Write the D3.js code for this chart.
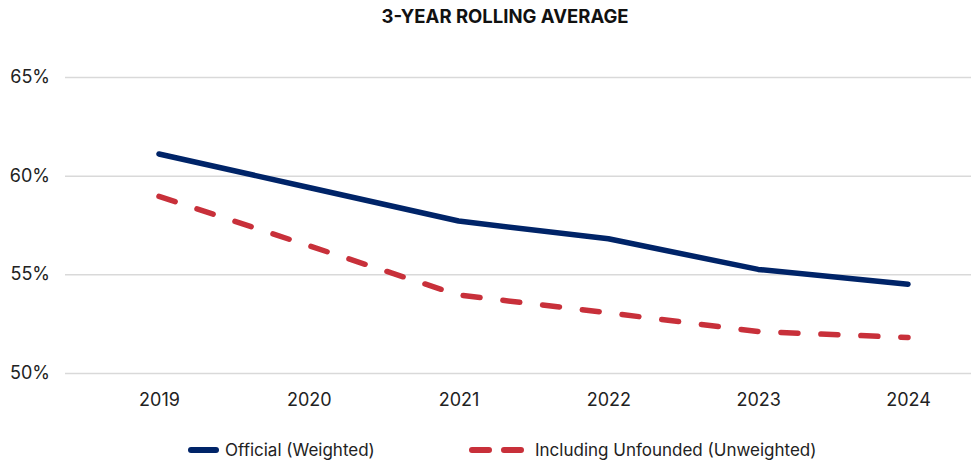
<!DOCTYPE html>
<html><head><meta charset="utf-8">
<script src="https://cdn.jsdelivr.net/npm/d3@7"></script>
<style>body{margin:0;background:#fff;} svg{display:block;font-family:Inter, "Noto Sans", sans-serif;}</style>
</head><body>
<svg id="c" width="971" height="464"></svg>
<script>
const years = ["2019","2020","2021","2022","2023","2024"];
const official = [61.1, 59.4, 57.7, 56.8, 55.25, 54.5];
const unfounded = [58.95, 56.45, 53.95, 53.05, 52.1, 51.8];
const yTicks = [50, 55, 60, 65];
const seriesNames = ["Official (Weighted)", "Including Unfounded (Unweighted)"];
const colors = ["#002468", "#C8303A"];

const svg = d3.select("#c");
const x = d3.scalePoint().domain(years).range([159, 908]);
const y = d3.scaleLinear().domain([50, 65]).range([373, 77]);

svg.append("text").attr("x", 505).attr("y", 23).attr("text-anchor", "middle")
  .attr("font-size", 18.5).attr("font-weight", 700).attr("fill", "#111")
  .attr("font-family", "Inter, sans-serif").text("3-YEAR ROLLING AVERAGE");

const yAxis = d3.axisLeft(y).tickValues(yTicks).tickSize(-906).tickFormat(d => d + "%");
const gy = svg.append("g").attr("transform", "translate(65,0)").call(yAxis);
gy.select(".domain").remove();
gy.selectAll(".tick line").attr("stroke", "#d9d9d9").attr("stroke-width", 1.5);
gy.selectAll(".tick text").attr("x", -15).attr("dy", "0.3em").attr("font-size", 18).attr("fill", "#222").attr("font-family", "Inter, sans-serif");

const xAxis = d3.axisBottom(x).tickSize(0);
const gx = svg.append("g").attr("transform", "translate(0,390)").call(xAxis);
gx.select(".domain").remove();
gx.selectAll(".tick text").attr("dy", "0.71em").attr("y", 3).attr("font-size", 18).attr("fill", "#222").attr("font-family", "Inter, sans-serif");

const line = d3.line().x((d, i) => x(years[i])).y(d => y(d));
svg.append("path").datum(official).attr("d", line).attr("fill", "none")
  .attr("stroke", colors[0]).attr("stroke-width", 5.5).attr("stroke-linecap", "round").attr("stroke-linejoin", "round");
svg.append("path").datum(unfounded).attr("d", line).attr("fill", "none")
  .attr("stroke", colors[1]).attr("stroke-width", 5.5).attr("stroke-linecap", "round").attr("stroke-linejoin", "round")
  .attr("stroke-dasharray", "17,23");

// legend
const lg = svg.append("g");
lg.append("line").attr("x1", 191).attr("x2", 216).attr("y1", 450).attr("y2", 450)
  .attr("stroke", colors[0]).attr("stroke-width", 6).attr("stroke-linecap", "round");
lg.append("text").attr("x", 225).attr("y", 450).attr("dy", "0.35em").attr("font-size", 17).attr("fill", "#222").text(seriesNames[0]);
lg.append("line").attr("x1", 472).attr("x2", 521).attr("y1", 450).attr("y2", 450)
  .attr("stroke", colors[1]).attr("stroke-width", 6).attr("stroke-linecap", "round").attr("stroke-dasharray", "17,15");
lg.append("text").attr("x", 535).attr("y", 450).attr("dy", "0.35em").attr("font-size", 17).attr("fill", "#222").text(seriesNames[1]);
</script>
</body></html>
